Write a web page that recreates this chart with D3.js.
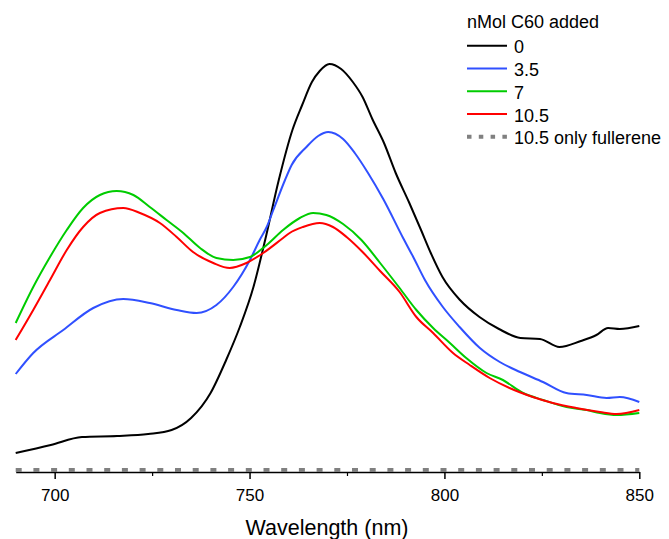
<!DOCTYPE html>
<html>
<head>
<meta charset="utf-8">
<script src="https://cdn.jsdelivr.net/npm/d3@7"></script>
<style>
  html, body { margin: 0; padding: 0; background: #fff; }
  svg { display: block; }
  text { font-family: "Liberation Sans", Arial, Helvetica, sans-serif; fill: #000; }
</style>
</head>
<body>
<svg id="chart" width="669" height="539"></svg>
<script>
// ---- data (absorbance, arbitrary units) ----
const wl0 = [690, 699, 707, 716, 724, 730, 735, 740, 744, 747.5, 751, 754, 757.5, 761, 763.5, 766, 768, 770.5, 773.5, 776.5, 779, 781.5, 784.5, 787.5, 791, 794, 796.5, 799.5, 804, 809, 814, 819.5, 824.5, 829.5, 835, 839, 842, 845, 850];
const abs0 = [0.019, 0.027, 0.035, 0.036, 0.038, 0.042, 0.054, 0.079, 0.112, 0.145, 0.185, 0.232, 0.292, 0.342, 0.367, 0.390, 0.401, 0.408, 0.403, 0.390, 0.375, 0.353, 0.329, 0.299, 0.269, 0.242, 0.219, 0.195, 0.172, 0.155, 0.143, 0.134, 0.133, 0.125, 0.131, 0.137, 0.144, 0.143, 0.146];

const wl35 = [690, 694.5, 702.2, 709.9, 717.6, 724.4, 731.3, 736.4, 741.5, 745.8, 750.1, 752.6, 754.4, 756.1, 759.1, 760.8, 764.6, 767.6, 770.2, 774, 777, 780.4, 784.3, 789.4, 792, 795, 799.6, 803.9, 809.1, 814.2, 819.4, 825.3, 831.3, 836.5, 841.6, 845, 850];
const abs35 = [0.098, 0.119, 0.142, 0.164, 0.173, 0.169, 0.162, 0.159, 0.167, 0.185, 0.212, 0.232, 0.245, 0.262, 0.292, 0.307, 0.325, 0.336, 0.340, 0.333, 0.319, 0.299, 0.273, 0.234, 0.215, 0.192, 0.165, 0.145, 0.124, 0.110, 0.100, 0.090, 0.079, 0.077, 0.074, 0.075, 0.070];

const wl7 = [690, 694.5, 698.8, 703.1, 707.3, 711.6, 715.9, 720.2, 724.4, 728.7, 733, 737.3, 741.5, 745.8, 750.1, 754.4, 758.6, 762.9, 766.3, 769.7, 774, 778.7, 783.5, 788.5, 792.8, 797.1, 801.4, 805.6, 810.8, 815, 820.2, 825.3, 831.3, 836.5, 839.9, 844.2, 850];
const abs7 = [0.149, 0.185, 0.215, 0.242, 0.264, 0.277, 0.281, 0.277, 0.265, 0.252, 0.239, 0.224, 0.214, 0.212, 0.215, 0.227, 0.242, 0.254, 0.259, 0.257, 0.248, 0.232, 0.209, 0.184, 0.162, 0.144, 0.129, 0.114, 0.099, 0.092, 0.079, 0.072, 0.065, 0.062, 0.059, 0.057, 0.059];

const wl105 = [690, 694.5, 698.8, 703.1, 707.3, 711.6, 717.6, 721.9, 727, 731.3, 735.5, 740.7, 744.9, 749.2, 753.5, 758.6, 760.3, 763.7, 768, 771.4, 774.9, 779, 783.5, 788.5, 792.8, 797.1, 802.2, 806.5, 811.6, 816.7, 822.7, 827.8, 833.8, 839.9, 844.2, 850];
const abs105 = [0.132, 0.162, 0.192, 0.222, 0.245, 0.259, 0.264, 0.259, 0.249, 0.235, 0.220, 0.209, 0.204, 0.209, 0.219, 0.234, 0.239, 0.245, 0.249, 0.245, 0.235, 0.220, 0.201, 0.180, 0.155, 0.139, 0.119, 0.107, 0.094, 0.084, 0.075, 0.069, 0.064, 0.060, 0.058, 0.062];

const wlFull = [690, 700, 710, 720, 730, 740, 750, 760, 770, 780, 790, 800, 810, 820, 830, 840, 850];
const absFull = [0.002, 0.002, 0.002, 0.002, 0.002, 0.002, 0.002, 0.002, 0.002, 0.002, 0.002, 0.002, 0.002, 0.002, 0.002, 0.002, 0.002];

const seriesNames = ["0", "3.5", "7", "10.5", "10.5 only fullerene"];
const seriesColors = ["#000000", "#3050ff", "#00cc00", "#ff0000", "#808080"];
const xTicks = [700, 750, 800, 850];
const xMinorTicks = [725, 775, 825];
const xTitle = "Wavelength (nm)";
const legendTitle = "nMol C60 added";

// ---- drawing ----
const svg = d3.select("#chart");
const x = d3.scaleLinear().domain([690, 850]).range([15.7, 639.3]);
const y = d3.scaleLinear().domain([0, 0.45]).range([472, 22]);

const series = [
  {name: seriesNames[0], color: seriesColors[0], xs: wl0, ys: abs0},
  {name: seriesNames[1], color: seriesColors[1], xs: wl35, ys: abs35},
  {name: seriesNames[2], color: seriesColors[2], xs: wl7, ys: abs7},
  {name: seriesNames[3], color: seriesColors[3], xs: wl105, ys: abs105},
];

const line = d3.line().x(d => x(d[0])).y(d => y(d[1])).curve(d3.curveMonotoneX);

// axis
const axisG = svg.append("g").attr("transform", `translate(0,${y(0)})`);
axisG.call(d3.axisBottom(x).tickValues(xTicks).tickSize(7).tickSizeOuter(0).tickPadding(10).tickFormat(d3.format("d")));
axisG.select(".domain").attr("stroke", "#000").attr("stroke-width", 1.5);
axisG.selectAll(".tick line").attr("stroke", "#000").attr("stroke-width", 1.5);
axisG.selectAll(".tick text").attr("font-size", 17).attr("font-family", "Liberation Sans, Arial, sans-serif").attr("fill", "#000");
const minorG = svg.append("g").attr("transform", `translate(0,${y(0)})`);
minorG.call(d3.axisBottom(x).tickValues(xMinorTicks).tickSize(4).tickFormat(""));
minorG.select(".domain").remove();
minorG.selectAll(".tick line").attr("stroke", "#000").attr("stroke-width", 1.2);

// fullerene line (dashed)
svg.append("path")
  .datum(wlFull.map((w, i) => [w, absFull[i]]))
  .attr("d", d3.line().x(d => x(d[0])).y(d => y(d[1])))
  .attr("fill", "none")
  .attr("stroke", seriesColors[4])
  .attr("stroke-width", 4)
  .attr("stroke-dasharray", "6,11.7");

// spectra
series.forEach(s => {
  svg.append("path")
    .datum(s.xs.map((w, i) => [w, s.ys[i]]))
    .attr("d", line)
    .attr("fill", "none")
    .attr("stroke", s.color)
    .attr("stroke-width", 2)
    .attr("stroke-linejoin", "round");
});

// x title
svg.append("text")
  .attr("x", 327).attr("y", 535)
  .attr("text-anchor", "middle")
  .attr("font-size", 21.5)
  .text(xTitle);

// legend
const lg = svg.append("g");
lg.append("text").attr("x", 467).attr("y", 28).attr("font-size", 18).text(legendTitle);
seriesNames.forEach((n, i) => {
  const ly = 45.7 + i * 22.75;
  lg.append("line")
    .attr("x1", 467).attr("x2", 507).attr("y1", ly).attr("y2", ly)
    .attr("stroke", seriesColors[i])
    .attr("stroke-width", i === 4 ? 4 : 2)
    .attr("stroke-dasharray", i === 4 ? "4.5,7.3" : null);
  lg.append("text").attr("x", 514).attr("y", ly + 7.6).attr("font-size", 18).text(n);
});
</script>
</body>
</html>
